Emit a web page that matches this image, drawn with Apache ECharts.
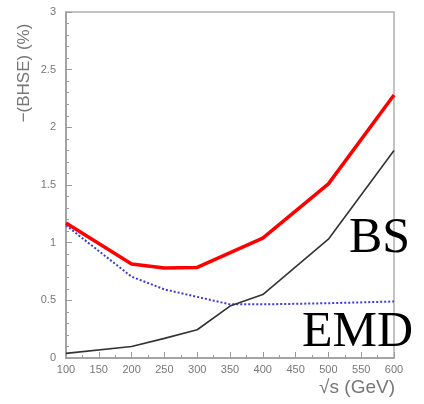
<!DOCTYPE html>
<html><head><meta charset="utf-8">
<script src="https://cdn.jsdelivr.net/npm/echarts@6/dist/echarts.min.js"></script>
<style>html,body{margin:0;padding:0;background:#fff}#c{width:424px;height:404px}</style>
</head><body><div id="c"></div>
<script>
const bsX = [100, 200, 250, 300, 400, 500, 600];
const bsY = [1.17, 0.815, 0.78, 0.785, 1.04, 1.51, 2.28];
const blackX = [100, 200, 250, 300, 350, 400, 500, 600];
const blackY = [0.04, 0.10, 0.17, 0.245, 0.45, 0.55, 1.03, 1.80];
const blueX = [100, 200, 250, 300, 350, 400, 500, 600];
const blueY = [1.15, 0.705, 0.595, 0.53, 0.465, 0.465, 0.475, 0.49];
const xTicks = [100, 150, 200, 250, 300, 350, 400, 450, 500, 550, 600];
const yTicks = [0, 0.5, 1, 1.5, 2, 2.5, 3];

const zip = (xs, ys) => xs.map((x, i) => [x, ys[i]]);
const chart = echarts.init(document.getElementById('c'));
const axisCol = '#9a9a9a';
const labelCol = '#777';
chart.setOption({
  animation: false,
  grid: {left: 66, right: 30, top: 12, bottom: 46, show: true, borderColor: '#b0b0b0', borderWidth: 1.5},
  xAxis: {
    type: 'value', min: 100, max: 600, interval: 50,
    axisLine: {lineStyle: {color: axisCol, width: 1.5}},
    axisTick: {inside: true, length: 6, lineStyle: {color: axisCol}},
    minorTick: {show: true, splitNumber: 2, length: 3, lineStyle: {color: axisCol}},
    splitLine: {show: false},
    axisLabel: {color: labelCol, fontSize: 11, fontFamily: 'Liberation Sans', margin: 6,
      formatter: v => xTicks.includes(v) ? String(v) : ''}
  },
  yAxis: {
    type: 'value', min: 0, max: 3, interval: 0.5,
    axisLine: {lineStyle: {color: axisCol, width: 1.5}},
    axisTick: {inside: true, length: 6, lineStyle: {color: axisCol}},
    minorTick: {show: true, splitNumber: 5, length: 3, lineStyle: {color: axisCol}},
    splitLine: {show: false},
    axisLabel: {color: labelCol, fontSize: 11, fontFamily: 'Liberation Sans', margin: 10,
      formatter: v => yTicks.includes(v) ? String(v) : ''}
  },
  series: [
    {type: 'line', data: zip(blueX, blueY), symbol: 'none', z: 2,
     lineStyle: {color: '#3a3ae0', width: 2, type: [2, 2]}},
    {type: 'line', data: zip(blackX, blackY), symbol: 'none', z: 3,
     lineStyle: {color: '#333', width: 1.6}},
    {type: 'line', data: zip(bsX, bsY), symbol: 'none', z: 4,
     lineStyle: {color: '#ff0000', width: 3.5}}
  ],
  graphic: [
    {type: 'text', x: 24, y: 73, rotation: Math.PI / 2,
     style: {text: '−(BHSE) (%)', fill: labelCol, font: '17px "Liberation Sans"', align: 'center', verticalAlign: 'middle'}},
    {type: 'text', x: 395, y: 388,
     style: {text: '√s (GeV)', fill: labelCol, font: '19px "Liberation Sans"', align: 'right', verticalAlign: 'middle'}},
    {type: 'text', x: 349, y: 239, z: 10,
     style: {text: 'BS', fill: '#000', font: '50px "Liberation Serif"', align: 'left', verticalAlign: 'middle'}},
    {type: 'text', x: 302, y: 333, z: 10,
     style: {text: 'EMD', fill: '#000', font: '50px "Liberation Serif"', align: 'left', verticalAlign: 'middle'}}
  ]
});
</script></body></html>
